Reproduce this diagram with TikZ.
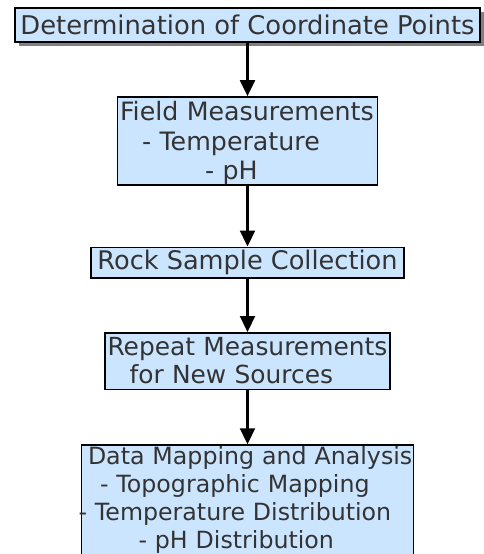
\documentclass[tikz,border=0pt]{standalone}
\usepackage{fontspec}
\setmainfont{DejaVu Sans}
\usetikzlibrary{arrows.meta,shadows}

\definecolor{boxblue}{HTML}{CCE5FF}
\definecolor{textgray}{HTML}{333333}

\tikzset{
  stepbox/.style={draw=black, line width=1.5pt, fill=boxblue, text=textgray,
    align=left, inner xsep=2.5pt, inner ysep=0pt},
  flow/.style={line width=2.2pt, -{Triangle[length=16pt,width=15pt]}}
}

\begin{document}
\begin{tikzpicture}[x=1pt, y=-1pt]

			\useasboundingbox (0,0) rectangle (483,554);

			% boxes
			\node[stepbox, align=center, minimum width=465pt, minimum height=34pt,
			  font=\fontsize{25.8}{29}\selectfont,
			  drop shadow={shadow xshift=4pt, shadow yshift=-4pt, fill=gray, opacity=1}]
			  (det) at (247.5,25) {Determination of Coordinate Points};
			\node[stepbox, text width=255pt, minimum height=88pt,
			  font=\fontsize{25.3}{29.5}\selectfont] (field) at (247.5,141)
			  {\rule{0pt}{24pt}\mbox{Field Measurements}\\\hspace*{22pt}- Temperature\\\hspace*{85pt}- pH};
			\node[stepbox, align=center, minimum width=313pt, minimum height=30.5pt,
			  font=\fontsize{25.6}{29}\selectfont] (rock) at (247.5,262.5)
			  {Rock Sample Collection};
			\node[stepbox, text width=280pt, minimum height=56.5pt,
			  font=\fontsize{24.9}{28}\selectfont] (repeat) at (247.5,361)
			  {\mbox{Repeat Measurements}\\\hspace*{22pt}for New Sources};
			\node[stepbox, text width=327pt, minimum height=110pt,
			  font=\fontsize{23.7}{27.7}\selectfont] (data) at (247.5,500)
			  {\hspace*{4pt}\mbox{Data Mapping and Analysis}\\\hspace*{16pt}\mbox{- Topographic Mapping}\\\hspace*{-5.5pt}\mbox{- Temperature Distribution}\\\hspace*{54.5pt}\mbox{- pH Distribution}};

			% arrows
			\draw[flow] (det) -- (field);
			\draw[flow] (field) -- (rock);
			\draw[flow] (rock) -- (repeat);
			\draw[flow] (repeat) -- (data);

\end{tikzpicture}
\end{document}
